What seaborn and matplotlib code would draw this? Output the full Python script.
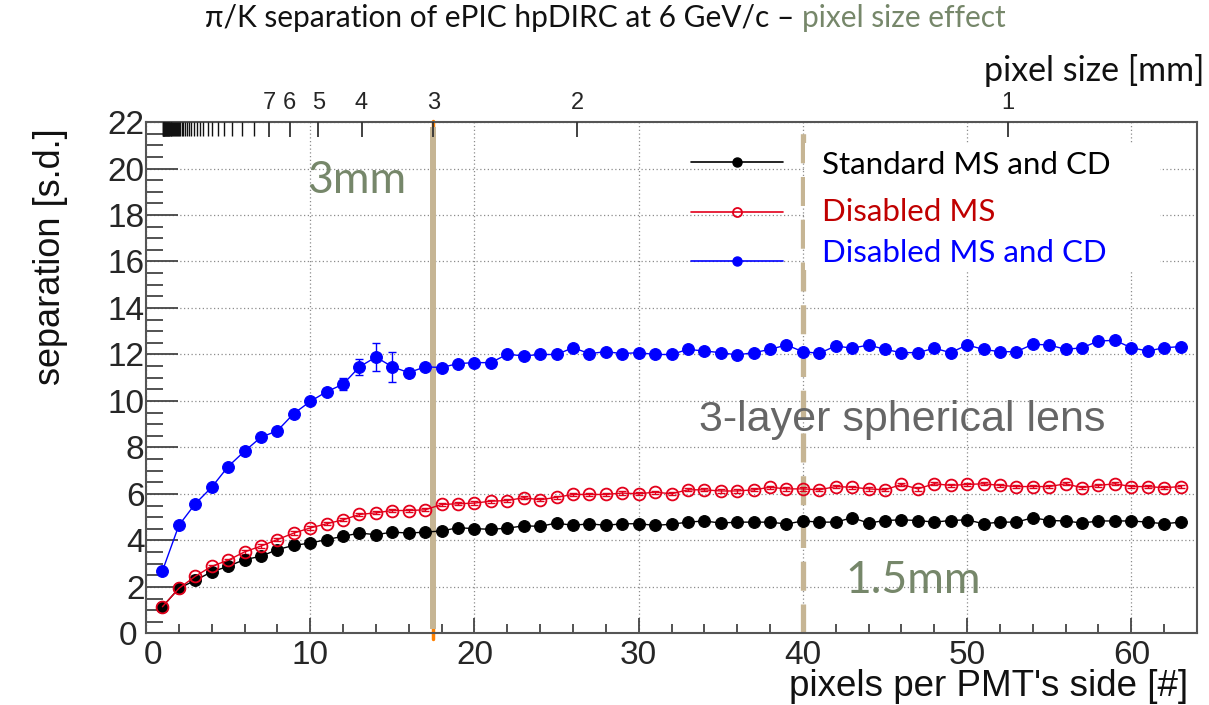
import numpy as np
import pandas as pd
import matplotlib
matplotlib.use("Agg")
import matplotlib.pyplot as plt
import matplotlib.transforms as mtransforms
import seaborn as sns
from matplotlib.patches import Rectangle
from matplotlib.ticker import MultipleLocator

# ---------------- data ----------------
pixels = list(range(1, 64))
standard = [1.15, 1.94, 2.29, 2.65, 2.89, 3.18, 3.32, 3.61, 3.79, 3.89,
            4.04, 4.18, 4.32, 4.25, 4.36, 4.32, 4.36, 4.41, 4.55, 4.51,
            4.48, 4.53, 4.63, 4.61, 4.75, 4.65, 4.72, 4.65, 4.72, 4.72,
            4.65, 4.70, 4.79, 4.84, 4.75, 4.79, 4.79, 4.79, 4.71, 4.84,
            4.79, 4.79, 4.98, 4.75, 4.86, 4.89, 4.86, 4.79, 4.86, 4.89,
            4.72, 4.79, 4.79, 4.98, 4.86, 4.84, 4.75, 4.84, 4.84, 4.84,
            4.79, 4.72, 4.79]
disabled_ms = [1.15, 1.94, 2.46, 2.89, 3.15, 3.51, 3.76, 4.04, 4.32, 4.54,
               4.72, 4.89, 5.12, 5.19, 5.29, 5.29, 5.32, 5.55, 5.58, 5.61,
               5.69, 5.72, 5.84, 5.75, 5.86, 5.98, 5.98, 5.98, 6.04, 6.01,
               6.08, 6.01, 6.18, 6.18, 6.13, 6.13, 6.18, 6.29, 6.22, 6.22,
               6.18, 6.32, 6.29, 6.22, 6.18, 6.41, 6.22, 6.44, 6.37, 6.41,
               6.44, 6.37, 6.32, 6.32, 6.32, 6.44, 6.27, 6.37, 6.44, 6.32,
               6.32, 6.27, 6.32]
disabled_ms_cd = [2.69, 4.65, 5.58, 6.29, 7.18, 7.84, 8.44, 8.72, 9.46, 9.98,
                  10.40, 10.72, 11.47, 11.89, 11.47, 11.22, 11.47, 11.44, 11.61, 11.65,
                  11.65, 12.01, 11.94, 12.00, 12.00, 12.29, 12.04, 12.12, 12.04, 12.08,
                  12.00, 12.00, 12.22, 12.15, 12.08, 11.98, 12.08, 12.22, 12.41, 12.12,
                  12.05, 12.37, 12.27, 12.41, 12.22, 12.08, 12.08, 12.27, 12.08, 12.41,
                  12.22, 12.12, 12.12, 12.44, 12.41, 12.22, 12.29, 12.58, 12.61, 12.29,
                  12.15, 12.29, 12.34]
err_small = [0.07] * 63
err_blue = [0.1] * 10 + [0.15, 0.25, 0.35, 0.6, 0.65, 0.2] + [0.1] * 47

series_labels = ["Standard MS and CD", "Disabled MS", "Disabled MS and CD"]
x_ticks = [0, 10, 20, 30, 40, 50, 60]
y_ticks = [0, 2, 4, 6, 8, 10, 12, 14, 16, 18, 20, 22]
top_tick_mm = [1, 2, 3, 4, 5, 6, 7]
pmt_side_mm = 52.5
line_3mm_x = 17.5
line_15mm_x = 40

title_main = "\u03c0/K separation of ePIC hpDIRC at 6 GeV/c \u2013 "
title_tail = "pixel size effect"

# ---------------- style ----------------
sns.set_theme(style="white")
plt.rcParams['font.family'] = ['Liberation Sans', 'DejaVu Sans']

BLACK = "#000000"
RED = "#e3001b"
BLUE = "#0000ff"
TAN = "#c6b594"
GREENGREY = "#76876a"
LATO = ['Lato', 'DejaVu Sans']

fig = plt.figure(figsize=(12.09, 7.05), dpi=100)
ax = fig.add_axes([0.12076, 0.10142, 0.86932, 0.72553])

# vertical guide lines (behind data)
ax.plot([line_3mm_x, line_3mm_x], [-0.25, 22.05], color="#ff8000", lw=2.5,
        clip_on=False, zorder=1)
ax.plot([line_3mm_x, line_3mm_x], [0.2, 21.8], color=TAN, lw=4.3,
        clip_on=False, zorder=1.5, solid_capstyle='butt')
ax.plot([line_15mm_x, line_15mm_x], [0, 22], color=TAN, lw=3.8,
        dashes=(5.5, 2.6), zorder=1.5)

# data
specs = [
    (standard, err_small, BLACK, dict(marker='o', markersize=8.5, markerfacecolor=BLACK,
                                      markeredgecolor=BLACK)),
    (disabled_ms, err_small, RED, dict(marker='o', markersize=8.5, markerfacecolor='none',
                                       markeredgecolor=RED, markeredgewidth=1.3)),
    (disabled_ms_cd, err_blue, BLUE, dict(marker='o', markersize=8.5, markerfacecolor=BLUE,
                                          markeredgecolor=BLUE)),
]
for vals, errs, col, mk in specs:
    ax.errorbar(pixels, vals, yerr=errs, fmt='none', ecolor=col, elinewidth=1.0,
                capsize=3, capthick=1.0, zorder=2)
    sns.lineplot(x=pixels, y=vals, ax=ax, color=col, linewidth=1.0,
                 errorbar=None, zorder=3, **mk)

# axes
ax.set_xlim(0, 64)
ax.set_ylim(0, 22)
ax.set_xticks(x_ticks)
ax.set_xticklabels([str(v) for v in x_ticks])
ax.set_yticks(y_ticks)
ax.set_yticklabels([str(v) for v in y_ticks])
ax.xaxis.set_minor_locator(MultipleLocator(2))
ax.yaxis.set_minor_locator(MultipleLocator(0.5))
ax.grid(True, which='major', color='#8c8c8c', linestyle=(0, (1, 2)), linewidth=0.9)
ax.set_axisbelow(True)
for s in ax.spines.values():
    s.set_color('#555555')
    s.set_linewidth(1.5)
ax.tick_params(axis='y', which='major', direction='in', length=23, width=1.3,
               color='#444444', labelsize=24, pad=1, left=True, right=False)
ax.tick_params(axis='y', which='minor', direction='in', length=12, width=1.3,
               color='#444444', left=True, right=False)
ax.tick_params(axis='x', which='major', direction='in', length=11, width=1.3,
               color='#444444', labelsize=24, pad=5, bottom=True, top=False)
ax.tick_params(axis='x', which='minor', direction='in', length=6.5, width=1.3,
               color='#444444', bottom=True, top=False)
ax.set_xlabel("")
ax.set_ylabel("")

# top axis: pixel size in mm
ax2 = ax.twiny()
ax2.set_xlim(ax.get_xlim())
ax2.set_xticks([pmt_side_mm / d for d in top_tick_mm])
ax2.set_xticklabels([str(d) for d in top_tick_mm])
ax2.set_xticks([pmt_side_mm / d for d in range(8, 53)], minor=True)
ax2.tick_params(axis='x', which='major', direction='in', length=11, width=1.3,
                color='#333333', labelsize=17, pad=6, top=True, bottom=False)
ax2.tick_params(axis='x', which='minor', direction='in', length=10, width=1.0,
                color='#111111', top=True, bottom=False)
for s in ax2.spines.values():
    s.set_visible(False)
ax2.grid(False)

# axis titles
fig.text(0.0414, 1 - 128 / 705, "separation [s.d.]", rotation=90, ha='center', va='top',
         fontsize=26, color='#111111')
fig.text(1188 / 1209, 1 - 687 / 705, "pixels per PMT's side [#]", ha='right', va='center',
         fontsize=26.5, color='#111111')
fig.text(1205 / 1209, 1 - 81 / 705, "pixel size [mm]", ha='right', va='baseline',
         fontsize=24.5, family=LATO, color='#111111')

# annotations
ax.text(9.8, 19.5, "3mm", color=GREENGREY, fontsize=32, family=LATO,
        ha='left', va='center')
ax.text(42.6, 2.3, "1.5mm", color=GREENGREY, fontsize=32, family=LATO,
        ha='left', va='center')
ax.text(33.7, 8.72, "3-layer spherical lens", color='#666666', fontsize=31,
        ha='left', va='baseline')

# legend (manual, ROOT style) with white text box
leg_y = [20.3, 18.15, 16.0]
for (vals, errs, col, mk), yy, lab in zip(specs, leg_y, series_labels):
    mk2 = dict(mk)
    mk2['markersize'] = 6.5
    ax.plot([33.2, 38.8], [yy, yy], color=col, lw=1.2, zorder=4, clip_on=False)
    ax.plot([36.0], [yy], color=col, lw=0, zorder=4, **mk2)
box = Rectangle((805 / 1209, 1 - 270 / 705), (1160 - 805) / 1209, (270 - 143) / 705,
                transform=fig.transFigure, facecolor='white', edgecolor='none', zorder=5)
fig.patches.append(box)
leg_text_y = [165, 212, 253]
leg_colors = [BLACK, "#c00000", BLUE]
for lab, yy, col in zip(series_labels, leg_text_y, leg_colors):
    fig.text(822 / 1209, 1 - yy / 705, lab, color=col, fontsize=22.5,
             family=LATO, ha='left', va='center', zorder=6)

# title in two colours
t1 = fig.text(205 / 1209, 1 - 18 / 705, title_main, fontsize=21.5,
              family=LATO, color='#111111', ha='left', va='center')
fig.canvas.draw()
bb = t1.get_window_extent(renderer=fig.canvas.get_renderer())
fig.text(bb.x1 / fig.bbox.width, 1 - 18 / 705, title_tail, fontsize=21.5,
         family=LATO, color=GREENGREY, ha='left', va='center')

# nudge the two "0" labels at the origin apart so they do not collide
ylab0 = ax.yaxis.get_major_ticks()[0].label1
ylab0.set_transform(ylab0.get_transform() +
                    mtransforms.ScaledTranslation(-5 / 72, 0, fig.dpi_scale_trans))
xlab0 = ax.xaxis.get_major_ticks()[0].label1
xlab0.set_transform(xlab0.get_transform() +
                    mtransforms.ScaledTranslation(5 / 72, 0, fig.dpi_scale_trans))

fig.savefig("out.png", dpi=100)
